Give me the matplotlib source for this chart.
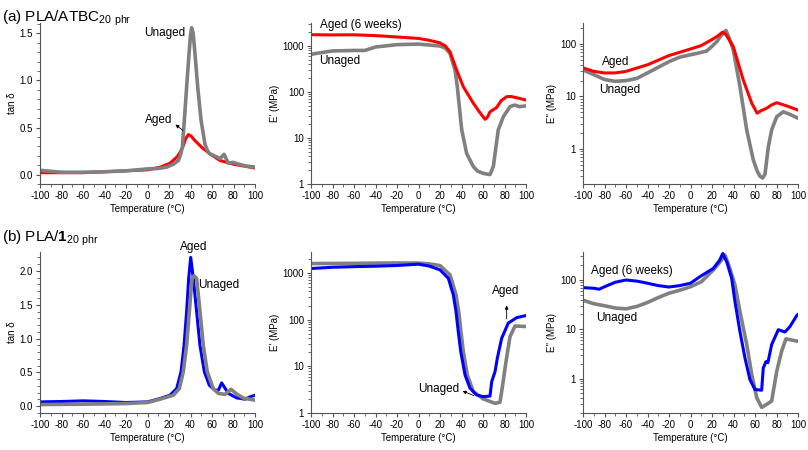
import numpy as np
import matplotlib
matplotlib.use("Agg")
import matplotlib.pyplot as plt
from matplotlib.ticker import MultipleLocator, LogLocator, FuncFormatter, NullFormatter

plt.rcParams['font.family'] = ['Liberation Sans', 'DejaVu Sans']
plt.rcParams['mathtext.fontset'] = 'custom'
plt.rcParams['mathtext.rm'] = 'Liberation Sans'
plt.rcParams['mathtext.bf'] = 'Liberation Sans:bold'
plt.rcParams['axes.unicode_minus'] = False

# ---- (a) PLA/ATBC 20 phr ----
# tan delta
a_tan_un_T = [-100, -90, -80, -60, -40, -20, 0, 10, 18, 24, 28.7, 30.5, 32.4, 34.3, 36.4, 38.6, 40, 41.1, 42.5, 44.2, 46.7, 49.8, 53.5, 56, 58, 64, 67.4, 71.2, 75.2, 79.5, 85, 92, 100]
a_tan_un = [0.046, 0.035, 0.025, 0.025, 0.03, 0.04, 0.06, 0.065, 0.08, 0.11, 0.15, 0.2, 0.29, 0.58, 0.93, 1.28, 1.48, 1.56, 1.5, 1.28, 0.93, 0.58, 0.32, 0.25, 0.22, 0.19, 0.17, 0.215, 0.12, 0.13, 0.11, 0.09, 0.08]
a_tan_ag_T = [-100, -80, -60, -40, -20, 0, 12, 20.9, 27.7, 30.5, 32.7, 35.5, 38, 40.5, 44.2, 50.4, 58.1, 67.4, 80, 90, 100]
a_tan_ag = [0.02, 0.02, 0.02, 0.03, 0.04, 0.05, 0.08, 0.12, 0.19, 0.24, 0.29, 0.38, 0.425, 0.41, 0.36, 0.29, 0.22, 0.15, 0.11, 0.09, 0.07]
# storage modulus E'
a_e1_ag_T = [-100, -80, -60, -40, -20, 0, 10, 20, 25, 29.3, 35.5, 41.7, 51, 57, 61.9, 64, 66.5, 72.7, 77, 82, 86, 91.3, 100]
a_e1_ag = [1760, 1740, 1750, 1680, 1570, 1460, 1330, 1170, 1000, 750, 300, 130, 57, 36, 25.5, 28, 37, 46, 65, 79, 80, 75, 67]
a_e1_un_T = [-100, -90, -80, -60, -50, -40, -20, 0, 20, 25, 29.3, 34, 36.1, 38, 40.2, 44.8, 51, 55, 60.3, 66.5, 69.6, 72.1, 74.2, 78.9, 85.1, 89.5, 94, 100]
a_e1_un = [660, 720, 780, 800, 800, 950, 1070, 1100, 1000, 900, 690, 300, 130, 48, 15, 4.6, 2.4, 1.9, 1.7, 1.6, 2.4, 6.5, 15, 29, 48, 52, 48, 50]
# loss modulus E''
a_e2_ag_T = [-100, -90, -80, -70, -60, -40, -20, 0, 10, 20, 25, 30, 33, 39.8, 49.1, 57, 62, 66, 70.9, 75, 80.2, 89.5, 100]
a_e2_ag = [35, 30, 28, 28, 30, 40, 60, 80, 93, 121, 140, 168, 150, 89, 20.6, 7.4, 4.8, 5.4, 5.96, 6.8, 7.6, 6.6, 5.5]
a_e2_un_T = [-100, -90, -80, -70, -60, -50, -40, -20, -10, 0, 10, 15, 20, 24.4, 28, 33, 36, 39.8, 46, 52.3, 58.4, 62, 64.7, 67, 69.3, 72.4, 75.5, 80.2, 86.3, 92, 100]
a_e2_un = [32, 26, 21, 19.4, 20, 22, 28, 46, 56, 62, 69, 73, 90, 110, 140, 180, 130, 77, 15.4, 2.3, 0.62, 0.38, 0.30, 0.28, 0.33, 1.1, 2.3, 4.1, 5.1, 4.6, 3.85]

# ---- (b) PLA/1 20 phr ----
b_tan_ag_T = [-100, -80, -60, -40, -20, 0, 11.6, 20.9, 27.1, 31.2, 34, 36.4, 38.3, 40.2, 42.6, 45.7, 48.8, 52.9, 57.5, 62.8, 65.9, 69, 72, 75.2, 83, 90.7, 95.3, 100]
b_tan_ag = [0.064, 0.07, 0.08, 0.07, 0.055, 0.064, 0.114, 0.163, 0.26, 0.51, 0.90, 1.40, 1.89, 2.2, 1.89, 1.40, 0.90, 0.51, 0.31, 0.237, 0.237, 0.345, 0.27, 0.19, 0.123, 0.104, 0.138, 0.163]
b_tan_un_T = [-100, -60, -20, 0, 11.6, 24, 29.6, 33.3, 36.4, 38.9, 41.4, 43.3, 45.7, 48.8, 51.9, 55.6, 61.2, 65.9, 72, 77.7, 83, 89.3, 100]
b_tan_un = [0.025, 0.03, 0.04, 0.055, 0.104, 0.163, 0.26, 0.51, 0.90, 1.40, 1.89, 1.93, 1.89, 1.40, 0.90, 0.51, 0.26, 0.19, 0.175, 0.25, 0.18, 0.12, 0.09]
b_e1_ag_T = [-100, -80, -60, -40, -20, 0, 10, 20, 27.7, 32.4, 34.9, 37, 39.3, 43.3, 47.9, 54.1, 60.3, 66.5, 68.1, 71.2, 73.3, 77.4, 83.5, 91.3, 100]
b_e1_ag = [1240, 1320, 1360, 1390, 1440, 1535, 1400, 1160, 770, 340, 148, 55, 20.6, 6.5, 3.4, 2.43, 2.24, 2.3, 4.7, 7.7, 14.8, 40, 84, 110, 122]
b_e1_un_T = [-100, -60, -40, -20, 0, 10, 20, 29.3, 34.9, 37.4, 39.5, 41.7, 45.4, 51, 60.3, 71.2, 75.8, 78.3, 81.4, 85.1, 89.8, 100]
b_e1_un = [1585, 1600, 1620, 1630, 1620, 1560, 1435, 906, 340, 148, 55, 20.6, 6.5, 2.86, 2.0, 1.61, 1.7, 4, 12.6, 43, 73, 71]
b_e2_ag_T = [-100, -90, -85, -80, -70, -60, -50, -40, -30, -20, -10, 0, 8.8, 21.2, 27, 30, 33.7, 38.3, 41.4, 46, 50.7, 55.3, 60, 66.2, 67.7, 70.2, 72, 75.5, 81.7, 87.9, 92.6, 98.8, 100]
b_e2_ag = [70, 68, 65, 73, 90, 100, 95, 86, 77, 72, 77, 86, 117, 172, 250, 345, 234, 108, 36, 9, 2.6, 0.95, 0.6, 0.58, 1.64, 2.2, 2.1, 4.9, 9.8, 8.8, 11.4, 19, 20]
b_e2_un_T = [-100, -90, -80, -70, -60, -50, -40, -30, -20, -10, 0, 10, 21.2, 28, 32.1, 36, 41.4, 46, 52.3, 57, 61.6, 66.2, 70.9, 75.5, 80.2, 84.8, 88.8, 100]
b_e2_un = [39, 33, 30, 27, 26, 29, 35, 44, 54, 62, 73, 92, 159, 240, 320, 190, 79, 23, 4.9, 1.2, 0.41, 0.26, 0.30, 0.35, 1.4, 3.6, 6.4, 5.7]

xticks = list(range(-100, 101, 20))
GRAY, RED, BLUE = '#808080', '#ff0000', '#0000ff'

fig = plt.figure(figsize=(8.08, 4.5), dpi=100)
W = 215 / 808
fs_tick = 7

def make_ax(left_px, top_px, bottom_px):
    ax = fig.add_axes([left_px / 808, 1 - bottom_px / 450, W, (bottom_px - top_px) / 450])
    for s in ['top', 'right']:
        ax.spines[s].set_visible(False)
    ax.spines['left'].set_color('#555555')
    ax.spines['bottom'].set_color('#555555')
    ax.set_xlim(-100, 100)
    ax.set_xticks(xticks)
    ax.xaxis.set_minor_locator(MultipleLocator(10))
    ax.tick_params(which='both', direction='out', labelsize=fs_tick, pad=2, color='#555555')
    ax.tick_params(which='major', length=3)
    ax.tick_params(which='minor', length=2)
    ax.set_xlabel('Temperature (°C)', fontsize=fs_tick, labelpad=2)
    return ax

def log_axis(ax, lo, hi, label):
    ax.set_yscale('log')
    ax.set_ylim(lo, hi)
    ax.yaxis.set_major_locator(LogLocator(base=10))
    ax.yaxis.set_minor_locator(LogLocator(base=10, subs=np.arange(2, 10)))
    ax.yaxis.set_major_formatter(FuncFormatter(lambda v, p: f'{v:g}'))
    ax.yaxis.set_minor_formatter(NullFormatter())
    ax.set_ylabel(label, fontsize=fs_tick, labelpad=2)

lw_g, lw_c = 2.6, 2.2
tfs = 8.5
arrow = dict(arrowstyle='-|>', lw=0.6, color='black', mutation_scale=5)

# (a) tan delta
ax = make_ax(40, 23, 184)
ax.plot(a_tan_ag_T, a_tan_ag, color=RED, lw=lw_c)
ax.plot(a_tan_un_T, a_tan_un, color=GRAY, lw=lw_g)
ax.set_ylim(-0.1, 1.61)
ax.yaxis.set_major_locator(MultipleLocator(0.5))
ax.yaxis.set_minor_locator(MultipleLocator(0.1))
ax.yaxis.set_major_formatter(FuncFormatter(lambda v, p: f'{v:.1f}'))
ax.set_ylabel('tan δ', fontsize=fs_tick, labelpad=2)
ax.text(35, 1.5, 'Unaged', fontsize=tfs, ha='right', va='center')
ax.text(23.5, 0.58, 'Aged', fontsize=tfs, ha='right', va='center')
ax.annotate('', xy=(24, 0.55), xytext=(35, 0.45), arrowprops=arrow)
fig.text(0.003, 0.96, r'(a) PLA/ATBC$_{\mathregular{20\ phr}}$', fontsize=11, va='center')

# (a) E'
ax = make_ax(311, 23, 184)
ax.plot(a_e1_un_T, a_e1_un, color=GRAY, lw=lw_g)
ax.plot(a_e1_ag_T, a_e1_ag, color=RED, lw=lw_c)
log_axis(ax, 1, 3160, "E' (MPa)")
ax.text(-92, 2860, 'Aged (6 weeks)', fontsize=tfs, ha='left', va='center', clip_on=False)
ax.text(-92.5, 470, 'Unaged', fontsize=tfs, ha='left', va='center')

# (a) E''
ax = make_ax(583, 23, 184)
ax.plot(a_e2_un_T, a_e2_un, color=GRAY, lw=lw_g)
ax.plot(a_e2_ag_T, a_e2_ag, color=RED, lw=lw_c)
log_axis(ax, 0.215, 250, "E'' (MPa)")
ax.text(-82.5, 45, 'Aged', fontsize=tfs, ha='left', va='center')
ax.text(-85, 13.3, 'Unaged', fontsize=tfs, ha='left', va='center')

# (b) tan delta
ax = make_ax(40, 252, 413)
ax.plot(b_tan_ag_T, b_tan_ag, color=BLUE, lw=lw_c)
ax.plot(b_tan_un_T, b_tan_un, color=GRAY, lw=lw_g)
ax.set_ylim(-0.1, 2.28)
ax.yaxis.set_major_locator(MultipleLocator(0.5))
ax.yaxis.set_minor_locator(MultipleLocator(0.1))
ax.yaxis.set_major_formatter(FuncFormatter(lambda v, p: f'{v:.1f}'))
ax.set_ylabel('tan δ', fontsize=fs_tick, labelpad=2)
ax.text(43, 2.36, 'Aged', fontsize=tfs, ha='center', va='center', clip_on=False)
ax.text(47, 1.79, 'Unaged', fontsize=tfs, ha='left', va='center')
fig.text(0.003, 0.47, r'(b) PLA/$\mathbf{1}$$_{\mathregular{20\ phr}}$', fontsize=11, va='center')

# (b) E'
ax = make_ax(311, 252, 413)
ax.plot(b_e1_un_T, b_e1_un, color=GRAY, lw=lw_g)
ax.plot(b_e1_ag_T, b_e1_ag, color=BLUE, lw=lw_c)
log_axis(ax, 1, 2800, "E' (MPa)")
ax.text(81.5, 400, 'Aged', fontsize=tfs, ha='center', va='center')
ax.annotate('', xy=(82, 230), xytext=(82, 90), arrowprops=arrow)
ax.text(37.5, 3.2, 'Unaged', fontsize=tfs, ha='right', va='center')
ax.annotate('', xy=(38.6, 3.1), xytext=(54, 2.24), arrowprops=arrow)

# (b) E''
ax = make_ax(583, 252, 413)
ax.plot(b_e2_un_T, b_e2_un, color=GRAY, lw=lw_g)
ax.plot(b_e2_ag_T, b_e2_ag, color=BLUE, lw=lw_c)
log_axis(ax, 0.2, 370, "E'' (MPa)")
ax.text(-93, 154, 'Aged (6 weeks)', fontsize=tfs, ha='left', va='center')
ax.text(-87.5, 16.8, 'Unaged', fontsize=tfs, ha='left', va='center')

fig.savefig('out.png', dpi=100)
